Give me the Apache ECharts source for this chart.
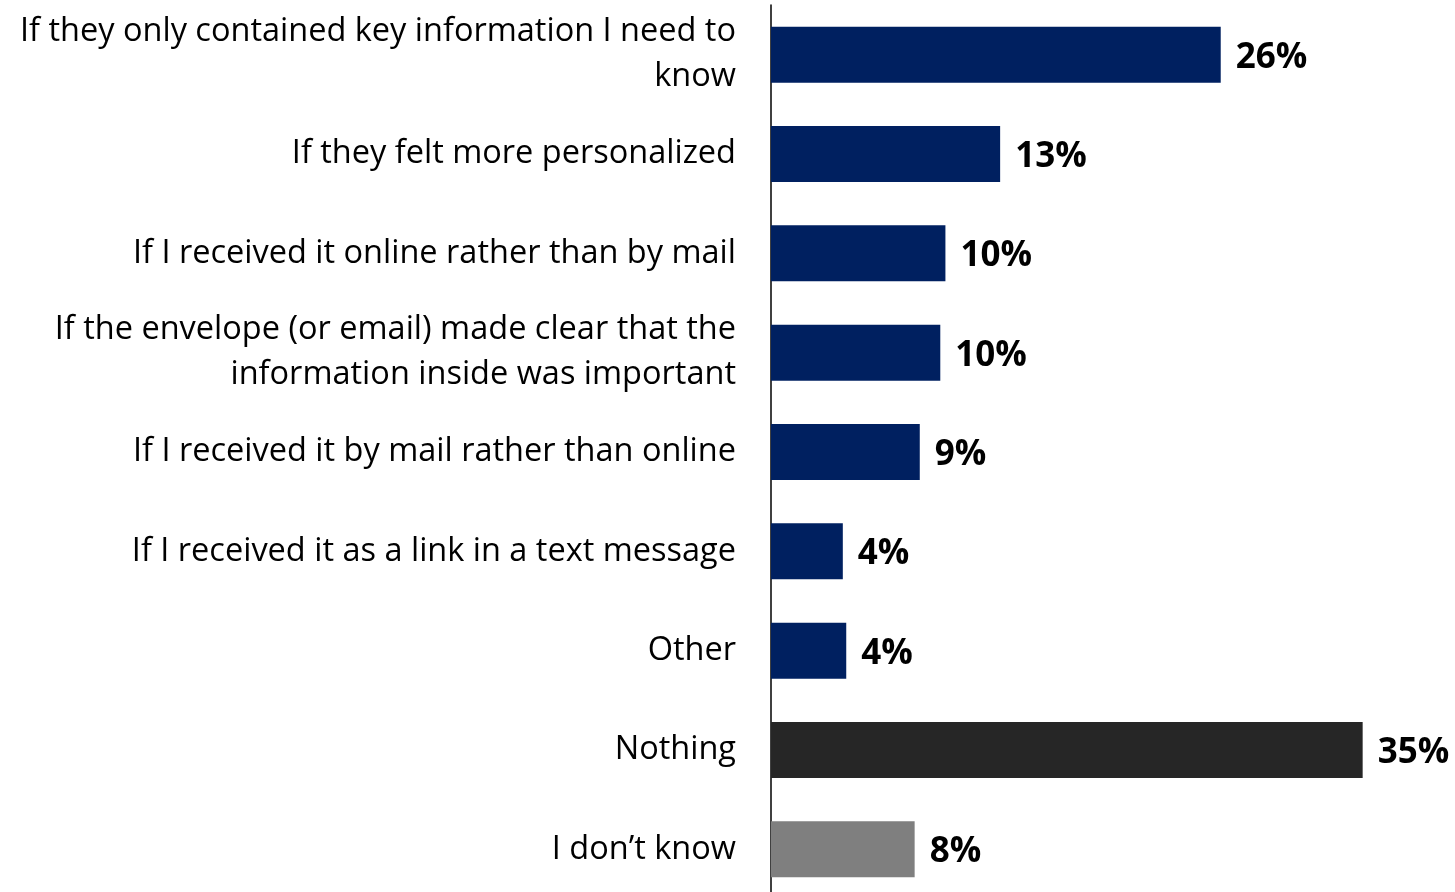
<!DOCTYPE html>
<html>
<head>
<meta charset="utf-8">
<script src="https://cdn.jsdelivr.net/npm/echarts@6/dist/echarts.min.js"></script>
<style>
    html, body { margin: 0; padding: 0; background: #fff; overflow: hidden; }
    #chart { width: 1455px; height: 900px; }
</style>
</head>
<body>
<div id="chart"></div>
<script>
// categories, top to bottom
var categories = [
    'If they only contained key information I need to\nknow',
    'If they felt more personalized',
    'If I received it online rather than by mail',
    'If the envelope (or email) made clear that the\ninformation inside was important',
    'If I received it by mail rather than online',
    'If I received it as a link in a text message',
    'Other',
    'Nothing',
    'I don\u2019t know'
];
// percentages
var values = [26.3, 13.4, 10.2, 9.9, 8.7, 4.2, 4.4, 34.6, 8.4];
var barColors = ['#002060', '#002060', '#002060', '#002060', '#002060', '#002060', '#002060', '#262626', '#7f7f7f'];

var chart = echarts.init(document.getElementById('chart'));
var seriesData = [];
for (var i = 0; i < values.length; i++) {
    seriesData.push({ value: values[i], itemStyle: { color: barColors[i] } });
}
chart.setOption({
    animation: false,
    grid: { left: 771, right: 0, top: 5, height: 894, containLabel: false },
    xAxis: {
        type: 'value',
        min: 0,
        max: 40,
        show: false
    },
    yAxis: {
        type: 'category',
        inverse: true,
        data: categories,
        axisLine: { show: true, lineStyle: { color: '#000', width: 1.5 } },
        axisTick: { show: false },
        axisLabel: {
            margin: 35,
            color: '#000',
            fontFamily: 'Open Sans',
            fontSize: 32.5,
            lineHeight: 45,
            padding: [4, 0, 0, 0],
            align: 'right'
        }
    },
    series: [{
        type: 'bar',
        data: seriesData,
        barWidth: 56,
        label: {
            show: true,
            position: 'right',
            distance: 15,
            offset: [0, 3],
            color: '#000',
            fontFamily: 'Open Sans',
            fontWeight: 'bold',
            fontSize: 35,
            formatter: function (p) {
                return Math.round(p.value) + '%';
            }
        }
    }]
});
</script>
</body>
</html>
